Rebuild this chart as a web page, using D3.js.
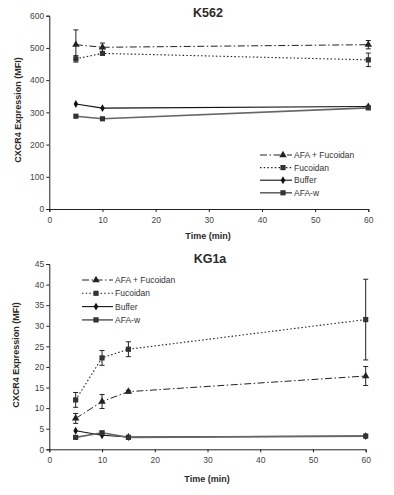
<!DOCTYPE html>
<meta charset="utf-8">
<style>
body { margin: 0; background: #fff; }
text { font-family: "Liberation Sans", Helvetica, Arial, sans-serif; fill: #2a2a2a; }
.tick text { fill: #444; }
.domain, .tick line { stroke: #222; }
.title { font-size: 12.5px; font-weight: bold; }
.axis-title { font-size: 9px; font-weight: bold; }
.legend text { font-size: 8.5px; fill: #333; }
</style>
<body>
<script src="https://d3js.org/d3.v7.min.js"></script>
<script>

var width = 394, height = 495;

var seriesNames = ["AFA + Fucoidan", "Fucoidan", "Buffer", "AFA-w"];

// K562 panel
var k562Times = [5, 10, 60];
var k562AfaFuc = [510, 502, 510];
var k562AfaFucErr = [46, 13, 13];
var k562Fuc = [466, 483, 463];
var k562FucErr = [10, 4, 21];
var k562Buffer = [326, 313, 318];
var k562AfaW = [288, 280, 314];

// KG1a panel
var kg1aTimes = [5, 10, 15, 60];
var kg1aAfaFuc = [7.5, 11.6, 14.0, 17.8];
var kg1aAfaFucErr = [1.2, 1.7, 0.3, 2.3];
var kg1aFuc = [12.0, 22.2, 24.3, 31.5];
var kg1aFucErr = [1.8, 1.8, 1.8, 9.8];
var kg1aBuffer = [4.5, 3.4, 3.0, 3.2];
var kg1aAfaW = [2.9, 4.0, 2.9, 3.2];
var kg1aAfaWErr = [0, 0.4, 0, 0];

var xTicks = [0, 10, 20, 30, 40, 50, 60];
var k562YTicks = [0, 100, 200, 300, 400, 500, 600];
var kg1aYTicks = [0, 5, 10, 15, 20, 25, 30, 35, 40, 45];

var styles = [
  {dash: "7,2.5,1.5,2.5", color: "#222", marker: "triangle", width: 1},
  {dash: "1.5,2.2", color: "#222", marker: "square", width: 1.1},
  {dash: null, color: "#111", marker: "diamond", width: 1.1},
  {dash: null, color: "#666", marker: "square", width: 1.6}
];

var svg = d3.select("body").append("svg")
    .attr("width", width)
    .attr("height", height);

function drawMarker(g, type, x, y) {
  if (type === "triangle") {
    g.append("path").attr("d", d3.symbol(d3.symbolTriangle, 24)())
      .attr("transform", `translate(${x},${y})`).attr("fill", "#222");
  } else if (type === "square") {
    g.append("rect").attr("x", x - 2.6).attr("y", y - 2.6)
      .attr("width", 5.2).attr("height", 5.2).attr("fill", "#333");
  } else {
    g.append("path").attr("d", d3.symbol(d3.symbolDiamond, 18)())
      .attr("transform", `translate(${x},${y})`).attr("fill", "#111");
  }
}

function panel(opt) {
  var x = d3.scaleLinear().domain([0, 60]).range(opt.xRange);
  var y = d3.scaleLinear().domain(opt.yDomain).range(opt.yRange);
  var g = svg.append("g");

  g.append("g")
      .attr("transform", `translate(0,${opt.yRange[0]})`)
      .call(d3.axisBottom(x).tickValues(xTicks).tickSize(3).tickPadding(5))
      .call(a => a.selectAll(".tick text").attr("font-size", 8.5));

  g.append("g")
      .attr("transform", `translate(${opt.xRange[0]},0)`)
      .call(d3.axisLeft(y).tickValues(opt.yTicks).tickSize(3).tickPadding(2))
      .call(a => a.selectAll(".tick text").attr("font-size", 8.5));

  g.selectAll(".domain").attr("stroke-width", 1);

  g.append("text").attr("class", "title")
      .attr("x", opt.titleX).attr("y", opt.titleY)
      .attr("text-anchor", "middle").text(opt.title);

  g.append("text").attr("class", "axis-title")
      .attr("x", opt.xTitleX).attr("y", opt.xTitleY)
      .attr("text-anchor", "middle").text("Time (min)");

  g.append("text").attr("class", "axis-title")
      .attr("transform", `translate(${opt.yTitleX},${opt.yTitleY}) rotate(-90)`)
      .attr("text-anchor", "middle").text("CXCR4 Expression (MFI)");

  var line = d3.line().x(d => x(d.t)).y(d => y(d.v));

  opt.series.forEach(function(s, i) {
    var st = styles[i];
    var pts = opt.times.map((t, j) => ({t: t, v: s.values[j], e: s.err ? s.err[j] : 0}));

    g.append("path")
        .attr("d", line(pts))
        .attr("fill", "none")
        .attr("stroke", st.color)
        .attr("stroke-width", st.width)
        .attr("stroke-dasharray", st.dash);

    pts.forEach(function(p) {
      if (p.e > 0) {
        var cx = x(p.t), y1 = y(p.v + p.e), y2 = y(p.v - p.e);
        g.append("line").attr("x1", cx).attr("x2", cx).attr("y1", y1).attr("y2", y2)
          .attr("stroke", "#222").attr("stroke-width", 1);
        [y1, y2].forEach(yy => g.append("line")
          .attr("x1", cx - 2.5).attr("x2", cx + 2.5).attr("y1", yy).attr("y2", yy)
          .attr("stroke", "#222").attr("stroke-width", 1));
      }
      drawMarker(g, st.marker, x(p.t), y(p.v));
    });
  });

  var lg = g.append("g").attr("class", "legend");
  seriesNames.forEach(function(name, i) {
    var st = styles[i];
    var ly = opt.legendY + i * opt.legendStep;
    lg.append("line")
        .attr("x1", opt.legendX).attr("x2", opt.legendX + opt.legendLen)
        .attr("y1", ly).attr("y2", ly)
        .attr("stroke", st.color)
        .attr("stroke-width", st.width)
        .attr("stroke-dasharray", st.dash);
    drawMarker(lg, st.marker, opt.legendX + opt.legendMark, ly);
    lg.append("text")
        .attr("x", opt.legendX + opt.legendLen + 2)
        .attr("y", ly + 3)
        .text(name);
  });
}

panel({
  title: "K562", titleX: 208, titleY: 17,
  xRange: [49.3, 368.3], yRange: [209, 15.7], yDomain: [0, 600], yTicks: k562YTicks,
  xTitleX: 208, xTitleY: 239, yTitleX: 21, yTitleY: 110,
  times: k562Times,
  series: [
    {values: k562AfaFuc, err: k562AfaFucErr},
    {values: k562Fuc, err: k562FucErr},
    {values: k562Buffer},
    {values: k562AfaW}
  ],
  legendX: 260, legendY: 155, legendStep: 12.6, legendLen: 32, legendMark: 23
});

panel({
  title: "KG1a", titleX: 210, titleY: 263,
  xRange: [49.3, 365.7], yRange: [449.3, 264], yDomain: [0, 45], yTicks: kg1aYTicks,
  xTitleX: 207, xTitleY: 482, yTitleX: 19, yTitleY: 355,
  times: kg1aTimes,
  series: [
    {values: kg1aAfaFuc, err: kg1aAfaFucErr},
    {values: kg1aFuc, err: kg1aFucErr},
    {values: kg1aBuffer},
    {values: kg1aAfaW, err: kg1aAfaWErr}
  ],
  legendX: 82, legendY: 280, legendStep: 13.3, legendLen: 31, legendMark: 14
});

</script>
